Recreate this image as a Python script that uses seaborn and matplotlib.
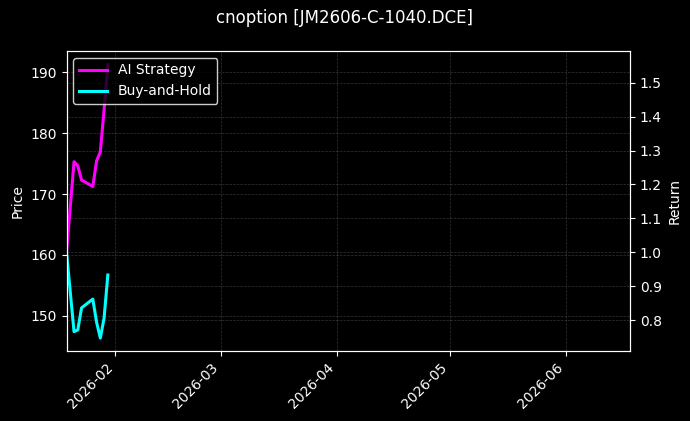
import pandas as pd
import numpy as np
import matplotlib
matplotlib.use("Agg")
import matplotlib.pyplot as plt
import matplotlib.dates as mdates
import seaborn as sns

# Daily closes
dates = ["2026-01-19", "2026-01-20", "2026-01-21", "2026-01-22", "2026-01-23",
         "2026-01-26", "2026-01-27", "2026-01-28", "2026-01-29", "2026-01-30"]
ai_strategy = [1.000, 1.134, 1.267, 1.255, 1.213, 1.194, 1.269, 1.296, 1.420, 1.553]
buy_and_hold = [1.000, 0.883, 0.766, 0.771, 0.836, 0.862, 0.794, 0.747, 0.806, 0.933]

title = "cnoption [JM2606-C-1040.DCE]"
x_end = "2026-06-18"
price_limits = (144.2, 193.5)
return_limits = (0.7086, 1.5935)


def make_chart():
    df = pd.DataFrame({
        "date": pd.to_datetime(dates),
        "AI Strategy": ai_strategy,
        "Buy-and-Hold": buy_and_hold,
    })

    plt.style.use("dark_background")
    fig, ax = plt.subplots(figsize=(6.9, 4.21), dpi=100)
    fig.subplots_adjust(left=0.0964, right=0.913, top=0.879, bottom=0.166)

    ax2 = ax.twinx()
    sns.lineplot(data=df, x="date", y="AI Strategy", ax=ax2, color="#ff00ff",
                 linewidth=2.2, label="AI Strategy")
    sns.lineplot(data=df, x="date", y="Buy-and-Hold", ax=ax2, color="#00ffff",
                 linewidth=2.2, label="Buy-and-Hold")

    ax.set_ylim(*price_limits)
    ax2.set_ylim(*return_limits)
    ax.set_xlim(df["date"].iloc[0], pd.Timestamp(x_end))

    ax.set_ylabel("Price")
    ax2.set_ylabel("Return")
    ax.set_xlabel("")
    ax2.set_xlabel("")

    ax.xaxis.set_major_locator(mdates.MonthLocator())
    ax.xaxis.set_major_formatter(mdates.DateFormatter("%Y-%m"))
    for lbl in ax.get_xticklabels():
        lbl.set_rotation(45)
        lbl.set_ha("right")

    ax.grid(True, linestyle="--", linewidth=0.5, color="gray", alpha=0.4)
    ax2.grid(True, linestyle="--", linewidth=0.5, color="gray", alpha=0.4)

    ax2.legend(loc="upper left", facecolor="black", edgecolor="white")

    fig.suptitle(title, fontsize=12, y=0.978)
    fig.savefig("out.png", dpi=100)
    plt.close(fig)


if __name__ == "__main__":
    make_chart()
